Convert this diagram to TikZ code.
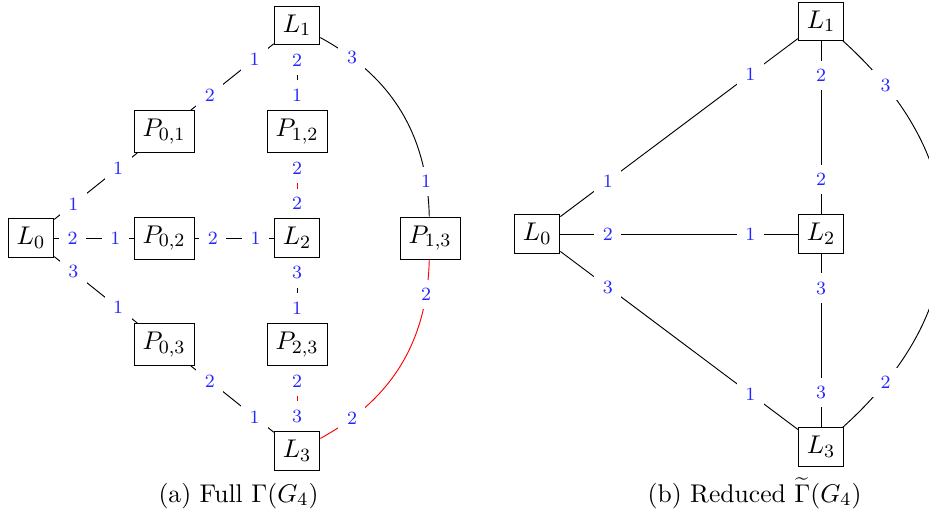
\documentclass[tikz,border=0pt,11pt]{standalone}
\usetikzlibrary{positioning}

\begin{document}
\begin{tikzpicture}[
    node distance=1.6cm and 2cm,
    on grid,
    vtx/.style={draw,rectangle},
    lb/.style={font=\scriptsize,text=blue!85,fill=white,pos=#1},
    hot/.style={red},
    captxt/.style={anchor=base}
  ]
  \useasboundingbox (-0.466,-4.165) rectangle (13.503,3.579);

  % full graph
  \node[vtx] (L0) {$L_0$};
  \node[vtx,above right=of L0] (P01) {$P_{0,1}$};
  \node[vtx,right=of L0] (P02) {$P_{0,2}$};
  \node[vtx,below right=of L0] (P03) {$P_{0,3}$};
  \node[vtx,above right=of P01] (L1) {$L_1$};
  \node[vtx,right=of P02] (L2) {$L_2$};
  \node[vtx,below right=of P03] (L3) {$L_3$};
  \node[vtx,below=of L1] (P12) {$P_{1,2}$};
  \node[vtx,above=of L3] (P23) {$P_{2,3}$};
  \node[vtx,right=of L2] (P13) {$P_{1,3}$};

  \draw (L0) -- node[lb=.23]{1} node[lb=.77]{1} (P01);
  \draw (P01) -- node[lb=.23]{2} node[lb=.77]{1} (L1);
  \draw (L1) -- node[lb=.23]{2} node[lb=.77]{1} (P12);
  \draw[hot] (P12) -- node[lb=.23]{2} node[lb=.77]{2} (L2);
  \draw (L0) -- node[lb=.23]{2} node[lb=.77]{1} (P02);
  \draw (P02) -- node[lb=.23]{2} node[lb=.77]{1} (L2);
  \draw (L0) -- node[lb=.23]{3} node[lb=.77]{1} (P03);
  \draw (P03) -- node[lb=.23]{2} node[lb=.77]{1} (L3);
  \draw (L2) -- node[lb=.23]{3} node[lb=.77]{1} (P23);
  \draw[hot] (P23) -- node[lb=.23]{2} node[lb=.77]{3} (L3);
  \draw (L1) to[bend left=30] node[lb=.16]{3} node[lb=.85]{1} (P13);
  \draw[hot] (P13) to[bend left=30] node[lb=.15]{2} node[lb=.84]{2} (L3);

  % reduced graph
  \node[vtx] (R0) at (7.61,0.06) {$L_0$};
  \node[vtx,right=4.27cm of R0] (R2) {$L_2$};
  \node[vtx,above=3.2cm of R2] (R1) {$L_1$};
  \node[vtx,below=3.2cm of R2] (R3) {$L_3$};

  \draw (R0) -- node[lb=.2]{1} node[lb=.8]{1} (R1);
  \draw (R0) -- node[lb=.2]{2} node[lb=.8]{1} (R2);
  \draw (R0) -- node[lb=.2]{3} node[lb=.8]{1} (R3);
  \draw (R1) -- node[lb=.2]{2} node[lb=.8]{2} (R2);
  \draw (R2) -- node[lb=.2]{3} node[lb=.8]{3} (R3);
  \draw (R1) to[out=-42,in=42,looseness=1.2] node[lb=.12]{3} node[lb=.88]{2} (R3);

  \node[captxt] (capA) at (3.12,-3.97) {(a) Full $\Gamma(G_4)$};
  \node[captxt] (capB) at (10.88,-3.97) {(b) Reduced $\widetilde{\Gamma}(G_4)$};
\end{tikzpicture}
\end{document}
